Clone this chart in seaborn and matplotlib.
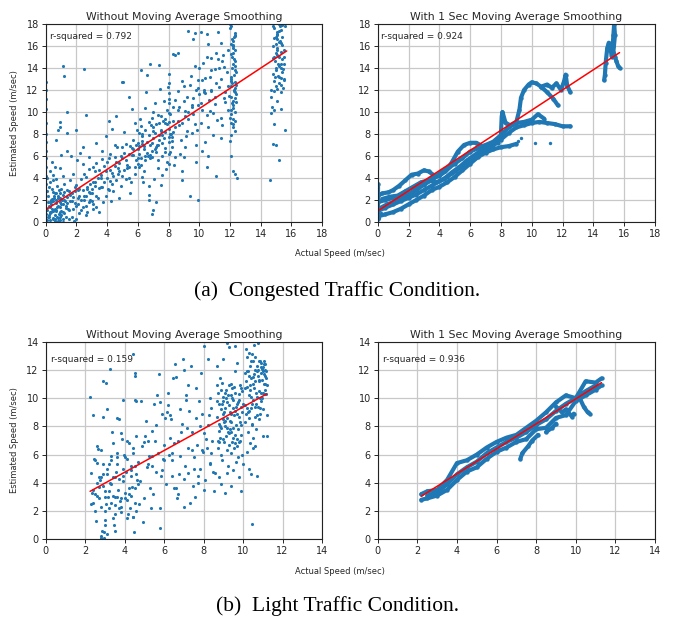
import numpy as np
import pandas as pd
import matplotlib
matplotlib.use("Agg")
import matplotlib.pyplot as plt
import seaborn as sns

# ------------------------------------------------------------
# (a) congested traffic, raw estimates
# ------------------------------------------------------------
cong_raw_x = [
    # dense cluster near origin
    0.1, 0.2, 0.3, 0.4, 0.5, 0.6, 0.7, 0.8, 0.9, 1.0,
    0.15, 0.25, 0.35, 0.45, 0.55, 0.65, 0.75, 0.85, 0.95, 1.05,
    0.1, 0.3, 0.5, 0.7, 0.9, 1.1, 1.3, 1.5, 0.2, 0.4,
    0.6, 0.8, 1.0, 1.2, 1.4, 0.05, 0.35, 0.55, 0.75, 0.95,
    1.15, 1.35, 1.55, 0.12, 0.42, 0.62, 0.82, 1.02, 1.22, 1.42,
    0.3, 0.6, 0.9, 1.2, 1.5, 0.2, 0.5, 0.8, 1.1, 1.4,
    # column at x = 0
    0.0, 0.0, 0.0, 0.0, 0.0, 0.0, 0.0, 0.0, 0.0, 0.0, 0.0, 0.0,
    # 1.5 .. 3.5
    1.6, 1.8, 2.0, 2.2, 2.4, 2.6, 2.8, 3.0, 3.2, 3.4,
    1.7, 1.9, 2.1, 2.3, 2.5, 2.7, 2.9, 3.1, 3.3, 3.5,
    1.6, 1.8, 2.0, 2.2, 2.4, 2.6, 2.8, 3.0, 3.2, 3.4,
    1.7, 1.9, 2.1, 2.3, 2.5, 2.7, 2.9, 3.1, 3.3, 3.5,
    1.65, 2.05, 2.45, 2.85, 3.25, 1.85, 2.25, 2.65, 3.05, 3.45,
    1.1, 1.2, 2.5, 1.4, 0.9, 0.8, 0.7, 0.9, 1.4, 2.0, 2.6, 1.0, 0.6, 1.4, 0.4,
    # 3.5 .. 6
    3.6, 3.8, 4.0, 4.2, 4.4, 4.6, 4.8, 5.0, 5.2, 5.4,
    5.6, 5.8, 6.0, 3.7, 3.9, 4.1, 4.3, 4.5, 4.7, 4.9,
    5.1, 5.3, 5.5, 5.7, 5.9, 3.6, 3.9, 4.2, 4.5, 4.8,
    5.1, 5.4, 5.7, 6.0, 3.75, 4.05, 4.35, 4.65, 4.95, 5.25,
    5.55, 5.85, 3.65, 4.15, 4.55, 5.05, 5.45, 5.95, 4.25, 5.65,
    # 6 .. 8.5
    6.1, 6.2, 6.3, 6.4, 6.5, 6.6, 6.7, 6.8, 6.9, 7.0,
    7.1, 7.2, 7.3, 7.4, 7.5, 7.6, 7.7, 7.8, 7.9, 8.0,
    8.1, 8.2, 8.3, 8.4, 6.15, 6.35, 6.55, 6.75, 6.95, 7.15,
    7.35, 7.55, 7.75, 7.95, 8.05, 8.15, 8.35, 6.05, 6.25, 6.45,
    6.65, 6.85, 7.05, 7.25, 7.45, 7.65, 7.85, 8.0, 8.0, 8.0,
    8.0, 8.0, 8.0, 6.1, 6.4, 6.7, 7.0, 7.3, 7.6, 7.9,
    8.2, 6.3, 6.9, 7.5, 8.1, 6.6, 7.2, 7.8, 8.4, 6.2,
    6.9, 7.0, 7.2, 6.7, 7.4, 6.8, 6.2, 5.0, 8.3, 8.4, 8.6, 8.0,
    # 8.5 .. 12
    8.6, 8.8, 9.0, 9.2, 9.4, 9.6, 9.8, 10.0, 10.2, 10.4,
    10.6, 10.8, 11.0, 11.2, 11.4, 11.6, 11.8, 8.7, 8.9, 9.1,
    9.3, 9.5, 9.7, 9.9, 10.1, 10.3, 10.5, 10.7, 10.9, 11.1,
    11.3, 11.5, 11.7, 11.9, 8.65, 9.05, 9.45, 9.85, 10.25, 10.65,
    11.05, 11.45, 11.85, 8.75, 9.15, 9.55, 9.95, 10.35, 10.75, 11.15,
    11.55, 11.95, 9.0, 9.6, 10.2, 10.8, 11.4, 9.3, 9.7, 10.1,
    10.5, 11.2, 8.9, 9.8, 9.9, 10.5, 11.1, 8.9, 9.4, 10.6,
    # column at x ~ 12.2
    12.0, 12.1, 12.2, 12.3, 12.4, 12.05, 12.15, 12.25, 12.35, 12.1,
    12.2, 12.3, 12.0, 12.1, 12.2, 12.3, 12.4, 12.15, 12.25, 12.05,
    12.1, 12.2, 12.3, 12.2, 12.1, 12.3, 12.4, 12.0, 12.2, 12.1,
    12.25, 12.15, 12.35, 12.2, 12.3, 12.1, 12.2, 12.3, 12.45, 12.0,
    # column at x ~ 15.1
    14.7, 14.8, 14.9, 15.0, 15.1, 15.2, 15.3, 15.4, 15.5, 15.6,
    14.75, 14.85, 14.95, 15.05, 15.15, 15.25, 15.35, 15.45, 15.55, 14.7,
    14.8, 14.9, 15.0, 15.1, 15.2, 15.3, 15.4, 15.5, 15.2, 15.1,
    15.3, 15.0, 15.4, 14.9, 15.2, 15.1, 15.3, 15.5, 14.8, 15.0,
    14.6, 15.2, 14.8, 15.0, 15.6, 14.9, 15.3, 15.1, 14.7, 15.2,
]
cong_raw_y = [
    0.2, 1.5, 0.8, 2.1, 0.4, 1.2, 2.6, 0.1, 1.8, 0.6,
    2.4, 0.9, 1.6, 0.3, 2.2, 1.0, 0.5, 2.9, 1.4, 2.0,
    1.1, 0.2, 2.7, 1.7, 0.9, 2.5, 1.3, 0.3, 3.2, 1.9,
    0.6, 1.5, 3.0, 0.8, 2.3, 0.7, 2.0, 1.1, 3.3, 0.2,
    1.6, 0.5, 2.8, 1.8, 1.2, 2.6, 0.4, 1.0, 3.5, 1.7,
    3.6, 0.1, 2.2, 2.0, 1.1, 0.5, 3.8, 2.4, 0.0, 2.9,
    3.5, 4.2, 5.0, 5.8, 6.5, 7.3, 8.0, 9.0, 10.3, 11.2, 12.0, 12.7,
    2.5, 1.2, 3.4, 0.8, 2.9, 4.1, 1.8, 3.0, 4.6, 2.2,
    0.5, 2.8, 1.6, 3.9, 2.0, 0.9, 3.5, 5.0, 1.4, 3.1,
    3.8, 4.4, 0.3, 2.4, 5.3, 1.5, 4.8, 2.6, 3.6, 4.0,
    1.9, 3.2, 2.2, 1.1, 4.4, 3.0, 2.0, 1.6, 5.4, 4.7,
    6.0, 5.6, 6.8, 5.9, 7.2, 0.1, 6.3, 0.6, 1.2, 0.9,
    14.2, 13.3, 13.9, 10.0, 9.1, 8.4, 7.5, 8.6, 8.1, 8.4, 9.7, 6.1, 5.0, 6.5, 5.5,
    3.2, 5.1, 4.0, 6.2, 2.8, 5.5, 4.6, 6.8, 3.9, 5.0,
    6.1, 4.4, 7.2, 6.5, 2.4, 5.8, 3.5, 7.0, 4.9, 3.3,
    6.3, 5.2, 2.6, 7.5, 5.6, 4.3, 7.8, 4.7, 5.9, 2.2,
    8.2, 4.0, 6.6, 5.3, 1.8, 3.0, 8.5, 6.8, 4.2, 7.1,
    3.6, 9.0, 5.7, 9.2, 9.6, 12.7, 11.4, 8.4, 1.9, 10.3,
    6.9, 5.2, 7.8, 4.6, 8.4, 6.3, 9.1, 5.8, 7.2, 10.0,
    6.6, 8.9, 4.9, 7.5, 9.6, 6.0, 11.0, 8.2, 5.5, 7.3,
    9.8, 6.8, 10.5, 8.6, 9.4, 3.6, 11.8, 3.3, 5.9, 10.8,
    7.9, 4.3, 6.4, 12.3, 13.5, 8.0, 5.2, 5.0, 7.1, 10.4,
    6.0, 8.8, 3.9, 7.0, 12.1, 9.2, 4.8, 6.2, 8.5, 9.9,
    11.2, 12.6, 7.7, 8.1, 6.6, 2.5, 8.3, 5.6, 7.9, 10.2,
    7.4, 4.1, 9.5, 3.4, 6.4, 13.4, 6.8, 9.0, 5.9, 8.7,
    0.7, 1.1, 1.8, 2.0, 14.3, 14.4, 13.8, 12.7, 15.3, 15.2, 15.4, 5.3,
    9.2, 7.5, 11.0, 8.3, 12.5, 9.8, 7.0, 11.6, 10.2, 13.1,
    8.6, 12.0, 10.7, 14.8, 9.5, 11.3, 13.6, 10.5, 12.8, 6.8,
    10.0, 8.1, 14.2, 12.2, 9.0, 11.8, 15.0, 10.1, 7.9, 12.6,
    14.0, 8.8, 10.9, 15.6, 11.9, 9.6, 13.3, 8.4, 14.5, 11.1,
    13.9, 16.3, 12.4, 6.2, 7.8, 10.6, 12.9, 7.3, 13.8, 9.3,
    15.2, 11.5, 5.9, 16.6, 6.5, 14.9, 7.6, 17.4, 17.2, 17.3,
    17.1, 17.3, 4.6, 5.5, 2.0, 5.0, 4.2, 3.8, 2.4, 6.0,
    9.5, 10.2, 11.0, 11.8, 12.5, 13.2, 14.0, 14.8, 15.6, 16.2,
    16.5, 17.2, 18.0, 9.0, 10.6, 12.2, 13.6, 15.0, 16.8, 11.4,
    12.8, 14.4, 10.0, 8.6, 7.9, 9.2, 11.6, 17.6, 15.8, 13.0,
    12.0, 10.8, 14.2, 16.1, 8.3, 6.0, 4.6, 4.4, 4.0, 7.4,
    12.0, 13.5, 15.0, 16.2, 17.0, 14.2, 15.5, 16.8, 13.0, 17.8,
    10.5, 12.8, 14.6, 15.8, 13.3, 16.5, 17.5, 12.2, 14.4, 11.4,
    16.0, 17.6, 13.8, 15.2, 12.6, 14.0, 13.6, 15.6, 18.0, 16.6,
    11.8, 12.4, 14.8, 10.2, 15.0, 17.3, 16.3, 12.9, 17.8, 14.0,
    3.8, 5.6, 7.1, 7.0, 8.4, 8.9, 10.3, 11.0, 9.9, 13.2,
]
# more points in the dense parts of the congested cloud
cong_raw_x2 = [
    0.05, 0.1, 0.2, 0.3, 0.4, 0.5, 0.6, 0.7, 0.8, 0.9,
    1.0, 1.1, 1.2, 1.3, 0.15, 0.25, 0.45, 0.65, 0.85, 1.25,
    0.35, 0.55, 0.75, 0.95, 1.15, 1.45, 1.6, 1.8, 2.0, 2.2,
    2.4, 2.6, 2.8, 3.0, 3.2, 1.7, 1.9, 2.1, 2.3, 2.5,
    2.7, 2.9, 3.1, 3.3, 0.1, 0.3, 0.5, 0.7, 0.9, 1.1,
    3.6, 3.9, 4.2, 4.5, 4.8, 5.1, 5.4, 5.7, 6.0, 3.7,
    4.0, 4.3, 4.6, 4.9, 5.2, 5.5, 5.8, 3.8, 4.4, 5.0,
    5.6, 4.1, 4.7, 5.3, 5.9,
    6.1, 6.3, 6.5, 6.7, 6.9, 7.1, 7.3, 7.5, 7.7, 7.9,
    8.1, 8.3, 6.2, 6.4, 6.6, 6.8, 7.0, 7.2, 7.4, 7.6,
    7.8, 8.0, 8.2, 8.4, 6.0, 6.5, 7.0, 7.5, 8.0, 6.3,
    6.8, 7.3, 7.8, 8.3, 8.0,
    8.6, 8.9, 9.2, 9.5, 9.8, 10.1, 10.4, 10.7, 11.0, 11.3,
    11.6, 11.9, 8.7, 9.0, 9.3, 9.6, 9.9, 10.2, 10.5, 10.8,
    11.1, 11.4, 11.7, 9.1, 9.7, 10.3, 10.9, 11.5, 10.0, 10.6,
    12.1, 12.2, 12.3, 12.15, 12.25, 12.35, 12.05, 12.2, 12.3, 12.1,
    12.2, 12.4, 12.1, 12.3, 12.2, 12.15, 12.25, 12.35, 12.2, 12.3,
    14.8, 15.0, 15.2, 15.4, 15.1, 15.3, 14.9, 15.5, 15.2, 15.0,
    14.85, 15.15, 15.35, 15.05, 15.25, 15.45, 14.95, 15.3, 15.1, 15.4,
]
cong_raw_y2 = [
    1.3, 2.8, 0.6, 1.4, 3.0, 1.9, 0.3, 1.1, 2.2, 0.5,
    1.6, 0.9, 2.7, 1.5, 0.5, 1.8, 1.0, 2.0, 0.7, 1.9,
    0.9, 2.4, 1.4, 2.6, 0.3, 1.2, 1.9, 2.3, 1.5, 3.0,
    1.4, 2.4, 2.7, 1.9, 3.3, 2.6, 1.7, 2.9, 2.0, 2.4,
    3.2, 2.6, 3.6, 2.4, 4.0, 4.6, 4.3, 3.9, 4.9, 4.2,
    4.0, 4.6, 3.7, 5.1, 5.4, 4.7, 6.2, 6.1, 5.8, 3.2,
    5.5, 4.5, 3.8, 6.0, 5.6, 6.9, 5.0, 3.6, 4.2, 5.8,
    6.7, 2.9, 4.4, 4.9, 7.0,
    6.2, 7.4, 5.6, 7.9, 6.5, 8.1, 7.0, 8.4, 7.6, 8.9,
    8.0, 9.2, 5.8, 6.9, 7.3, 6.1, 8.6, 6.4, 9.0, 7.2,
    9.4, 10.8, 7.7, 11.1, 6.6, 6.0, 7.6, 8.3, 9.1, 8.0,
    7.0, 9.7, 6.7, 8.2, 11.7,
    10.2, 9.0, 11.4, 10.5, 12.0, 10.8, 11.7, 13.2, 11.4, 12.3,
    14.1, 10.2, 8.8, 12.4, 9.4, 11.3, 10.6, 12.9, 9.7, 11.9,
    15.4, 13.0, 11.8, 10.1, 8.9, 12.0, 9.9, 14.6, 14.0, 16.2,
    9.8, 10.4, 11.3, 12.6, 13.4, 14.6, 15.3, 16.0, 17.0, 17.8,
    9.4, 10.9, 12.4, 13.8, 15.4, 16.6, 11.9, 12.7, 8.9, 16.9,
    14.9, 16.8, 17.4, 17.9, 12.1, 13.1, 11.9, 15.0, 16.4, 15.4,
    16.7, 14.4, 12.5, 17.1, 17.8, 13.9, 13.2, 14.4, 15.6, 16.1,
]

# (a) congested traffic, 1 s moving average: traced curves
cong_sm_traces = {
    "t1": ([0.0, 0.3, 0.7, 1.0, 1.4, 1.8, 2.2, 2.6, 3.0, 3.3, 3.7, 4.0, 4.4, 4.8, 5.2, 5.6, 6.0, 6.4, 6.8, 7.2, 7.6, 8.0],
           [2.4, 2.6, 2.7, 2.9, 3.3, 3.8, 4.3, 4.4, 4.7, 4.6, 4.2, 4.2, 4.6, 5.4, 6.4, 7.0, 7.2, 7.2, 6.9, 7.0, 7.3, 7.8]),
    "t2": ([0.0, 0.5, 1.0, 1.5, 2.0, 2.5, 3.0, 3.5, 4.0, 4.5, 5.0, 5.5, 6.0, 6.5, 7.0, 7.5, 8.0, 8.5, 9.0, 9.5, 10.0, 10.4, 10.8],
           [1.8, 2.0, 2.2, 2.1, 2.5, 2.9, 3.4, 3.8, 4.3, 4.8, 5.3, 5.8, 6.4, 6.7, 7.0, 7.3, 7.9, 8.6, 9.0, 9.1, 9.3, 9.8, 9.4]),
    "t3": ([0.0, 0.5, 1.0, 1.5, 2.0, 2.5, 3.0, 3.5, 4.0, 4.5, 5.0, 5.5, 6.0, 6.5, 7.0, 7.5, 8.0, 8.5, 9.0, 9.5, 10.0, 10.5, 11.0, 11.5, 12.0, 12.5],
           [1.0, 1.3, 1.6, 1.9, 2.2, 2.5, 2.9, 3.3, 3.7, 4.1, 4.6, 5.1, 5.6, 6.1, 6.6, 7.0, 7.5, 8.1, 8.6, 8.8, 9.0, 9.1, 9.0, 8.9, 8.7, 8.7]),
    "t4": ([0.0, 0.5, 1.0, 1.5, 2.0, 2.5, 3.0, 3.5, 4.0, 4.5, 5.0, 5.5, 6.0, 6.5, 7.0, 7.5, 8.0, 8.5, 9.0],
           [0.5, 0.7, 0.9, 1.2, 1.6, 2.0, 2.4, 2.9, 3.2, 3.6, 4.1, 4.7, 5.3, 5.9, 6.3, 6.6, 6.8, 6.9, 7.1]),
    "t5": ([8.0, 8.05, 8.1, 8.3, 8.6, 9.0, 9.2, 9.3, 9.5, 9.8, 10.0, 10.3, 10.6, 11.0, 11.3, 11.6, 11.9, 12.1, 12.2, 12.3, 12.5],
           [8.0, 9.6, 10.0, 9.0, 8.8, 9.1, 10.2, 11.3, 12.0, 12.5, 12.7, 12.6, 12.3, 12.5, 12.2, 12.6, 12.0, 12.8, 13.4, 12.4, 11.8]),
    "t6": ([10.6, 11.0, 11.4, 11.7], [12.3, 11.8, 11.2, 10.6]),
    "t7": ([14.7, 14.75, 14.8, 14.9, 15.0, 15.1, 15.2, 15.25, 15.3, 15.35, 15.4, 15.3, 15.4, 15.5, 15.6, 15.7],
           [12.9, 13.4, 14.5, 15.8, 16.3, 15.8, 15.0, 16.0, 17.0, 18.0, 17.0, 15.5, 15.0, 14.6, 14.2, 14.0]),
    "t8": ([0.0, 0.0], [0.3, 3.5]),
    "t9": ([0.2, 0.6, 1.0, 1.4, 1.8, 2.2, 2.6, 3.0, 3.4, 3.8, 4.2, 4.6, 5.0],
           [1.3, 1.6, 1.8, 2.2, 2.4, 2.7, 3.1, 3.5, 3.9, 4.2, 4.6, 5.0, 5.5]),
    "t10": ([0.3, 0.8, 1.3, 1.8, 2.3, 2.8, 3.3, 3.8, 4.3, 4.8, 5.3, 5.8, 6.3, 6.8, 7.3, 7.8],
            [2.1, 2.3, 2.4, 2.8, 3.2, 3.6, 3.8, 3.6, 3.9, 4.5, 5.0, 5.6, 6.1, 6.6, 6.9, 7.2]),
}
cong_sm_iso_x = [9.0, 9.1, 9.3, 10.2, 11.2, 0.1, 0.2]
cong_sm_iso_y = [7.2, 7.4, 7.6, 7.2, 7.2, 0.4, 0.8]

# ------------------------------------------------------------
# (b) light traffic, raw estimates
# ------------------------------------------------------------
light_raw_x = [
    2.3, 2.4, 2.5, 2.6, 2.7, 2.8, 2.9, 3.0, 3.1, 3.2,
    3.3, 3.4, 3.5, 3.6, 3.7, 3.8, 3.9, 4.0, 4.1, 4.2,
    4.3, 4.4, 4.5, 4.6, 4.7, 2.35, 2.55, 2.75, 2.95, 3.15,
    3.35, 3.55, 3.75, 3.95, 4.15, 4.35, 4.55, 4.75, 2.45, 2.65,
    2.85, 3.05, 3.25, 3.45, 3.65, 3.85, 4.05, 4.25, 4.45, 4.65,
    2.3, 2.6, 2.9, 3.2, 3.5, 3.8, 4.1, 4.4, 4.7, 2.5,
    2.8, 3.1, 3.4, 3.7, 4.0, 4.3, 4.6, 2.7, 3.0, 3.3,
    3.6, 3.9, 4.2, 4.5, 2.4, 2.9, 3.4, 3.9, 4.4, 2.6,
    3.1, 3.6, 4.1, 4.6, 2.8, 3.3, 3.8, 4.3, 3.0, 3.5,
    2.25, 2.9, 3.05, 3.26, 4.44, 4.5, 4.55, 2.8, 2.95, 3.5,
    4.8, 4.9, 5.0, 5.1, 5.2, 5.3, 5.4, 5.5, 5.6, 5.7,
    5.8, 5.9, 6.0, 6.1, 6.2, 6.3, 6.4, 6.5, 6.6, 6.7,
    6.8, 6.9, 7.0, 7.1, 7.2, 7.3, 7.4, 7.5, 7.6, 7.7,
    7.8, 7.9, 8.0, 8.1, 8.2, 8.3, 8.4, 8.5, 4.85, 5.05,
    5.25, 5.45, 5.65, 5.85, 6.05, 6.25, 6.45, 6.65, 6.85, 7.05,
    7.25, 7.45, 7.65, 7.85, 8.05, 8.25, 8.45, 4.95, 5.35, 5.75,
    6.15, 6.55, 6.95, 7.35, 7.75, 8.15, 8.55, 5.15, 5.55, 5.95,
    6.35, 6.75, 7.15, 7.55, 7.95, 8.35, 5.0, 5.8, 6.6, 7.4,
    8.2, 5.4, 6.2, 7.0, 7.8, 8.6, 5.8, 6.4, 7.2, 8.0,
    8.7, 8.8, 8.9, 9.0, 9.1, 9.2, 9.3, 9.4, 9.5, 9.6,
    9.7, 9.8, 9.9, 10.0, 8.75, 8.85, 8.95, 9.05, 9.15, 9.25,
    9.35, 9.45, 9.55, 9.65, 9.75, 9.85, 9.95, 8.7, 8.8, 8.9,
    9.0, 9.1, 9.2, 9.3, 9.4, 9.5, 9.6, 9.7, 9.8, 9.9,
    8.75, 8.95, 9.15, 9.35, 9.55, 9.75, 9.95, 8.85, 9.05, 9.25,
    9.45, 9.65, 9.85, 8.8, 9.0, 9.2, 9.4, 9.6, 9.8, 10.0,
    8.9, 9.1, 9.3, 9.5, 9.7, 9.9, 8.7, 9.2, 9.6, 9.4,
    10.1, 10.2, 10.3, 10.4, 10.5, 10.6, 10.7, 10.8, 10.9, 11.0,
    11.1, 11.2, 10.15, 10.25, 10.35, 10.45, 10.55, 10.65, 10.75, 10.85,
    10.95, 11.05, 11.15, 10.1, 10.2, 10.3, 10.4, 10.5, 10.6, 10.7,
    10.8, 10.9, 11.0, 11.1, 10.25, 10.45, 10.65, 10.85, 11.05, 10.15,
    10.35, 10.55, 10.75, 10.95, 11.15, 10.2, 10.5, 10.8, 11.1, 10.4,
    10.7, 11.0, 10.3, 10.6, 10.9, 10.3, 10.5, 11.2, 10.45, 11.2,
]
light_raw_y = [
    4.7, 2.6, 3.2, 5.4, 2.9, 0.2, 3.8, 1.4, 4.6, 2.2,
    5.9, 3.1, 2.4, 6.1, 4.3, 1.9, 5.0, 3.3, 2.8, 6.8,
    4.5, 1.6, 3.6, 7.3, 5.5, 3.3, 1.3, 4.2, 0.5, 3.0,
    7.6, 4.8, 2.7, 6.0, 1.8, 3.7, 5.2, 2.5, 5.7, 6.4,
    0.6, 2.5, 4.0, 1.0, 3.5, 7.1, 4.8, 2.2, 0.5, 4.2,
    2.5, 3.1, 4.6, 5.3, 3.0, 2.3, 5.7, 6.5, 3.9, 2.0,
    6.3, 0.4, 1.5, 8.5, 2.9, 4.9, 2.0, 3.7, 1.0, 2.6,
    5.8, 4.1, 3.2, 9.9, 8.8, 8.7, 6.8, 9.9, 6.1, 6.6,
    9.2, 8.6, 7.0, 9.8, 4.4, 5.6, 7.5, 5.2, 3.4, 4.4,
    10.1, 11.2, 11.05, 12.1, 13.15, 11.75, 11.6, 0.1, 0.1, 0.6,
    4.1, 6.6, 2.9, 8.4, 5.3, 3.6, 7.7, 9.6, 4.8, 6.1,
    2.2, 8.9, 5.6, 3.9, 10.4, 7.2, 4.5, 6.8, 11.5, 3.2,
    5.9, 8.2, 4.3, 9.9, 6.5, 2.6, 7.6, 5.0, 10.7, 4.0,
    8.0, 6.3, 3.5, 7.1, 12.8, 5.4, 9.3, 4.8, 9.8, 7.3,
    5.9, 3.2, 10.2, 4.5, 8.6, 6.0, 11.4, 2.9, 7.6, 5.2,
    9.1, 3.8, 6.7, 11.8, 4.2, 8.8, 7.0, 1.2, 2.2, 11.7,
    9.0, 12.4, 12.8, 12.3, 9.8, 6.5, 3.4, 5.1, 7.0, 5.7,
    8.5, 4.6, 7.9, 3.0, 6.2, 10.0, 6.9, 9.7, 3.6, 6.3,
    8.1, 5.2, 9.5, 2.3, 5.0, 4.7, 0.8, 6.1, 10.9, 13.7,
    9.8, 8.2, 10.6, 7.1, 9.3, 8.6, 10.9, 7.6, 9.9, 6.8,
    8.9, 10.3, 7.4, 9.6, 6.5, 8.0, 11.1, 9.0, 7.3, 10.2,
    8.4, 6.9, 10.8, 8.1, 9.7, 7.0, 10.5, 10.9, 7.7, 9.2,
    8.5, 10.4, 6.3, 9.5, 11.0, 7.9, 9.1, 6.6, 8.7, 9.4,
    7.0, 5.6, 10.0, 7.8, 8.8, 5.8, 6.0, 11.4, 6.9, 5.2,
    10.7, 5.5, 8.3, 4.4, 12.8, 4.7, 3.8, 13.7, 4.4, 5.3,
    3.9, 3.3, 13.6, 4.9, 12.5, 3.4, 12.3, 13.9, 11.9, 6.1,
    9.5, 10.8, 8.6, 11.4, 9.9, 12.0, 8.8, 10.5, 11.8, 9.2,
    12.4, 10.9, 11.2, 9.0, 12.3, 8.2, 10.7, 9.6, 11.6, 12.6,
    10.0, 11.0, 11.9, 8.3, 12.9, 10.2, 9.3, 11.5, 8.7, 10.1,
    11.3, 9.8, 12.2, 10.6, 7.6, 13.1, 7.8, 8.9, 11.7, 13.5,
    6.8, 13.8, 9.4, 12.1, 11.4, 6.2, 7.2, 8.5, 10.3, 4.6,
    4.5, 7.3, 5.0, 6.6, 12.5, 13.2, 6.5, 8.8, 1.1, 7.3,
]
# more points in the dense parts of the light-traffic cloud
light_raw_x2 = [
    8.7, 8.8, 8.9, 9.0, 9.1, 9.2, 9.3, 9.4, 9.5, 9.6,
    9.7, 9.8, 9.9, 8.75, 8.85, 8.95, 9.05, 9.15, 9.25, 9.35,
    9.45, 9.55, 9.65, 9.75, 9.85, 9.95, 8.8, 9.0, 9.2, 9.4,
    9.6, 9.8, 8.9, 9.1, 9.3, 9.5, 9.7, 9.9, 9.0, 9.4,
    10.1, 10.2, 10.3, 10.4, 10.5, 10.6, 10.7, 10.8, 10.9, 11.0,
    11.1, 10.15, 10.25, 10.35, 10.45, 10.55, 10.65, 10.75, 10.85, 10.95,
    11.05, 11.15, 10.2, 10.4, 10.6, 10.8, 11.0, 10.3, 10.5, 10.7,
    10.9, 11.1, 10.1, 10.35, 10.6, 10.85, 11.1, 10.45, 10.75, 11.05,
    2.4, 2.7, 3.0, 3.3, 3.6, 3.9, 4.2, 4.5, 2.5, 2.8,
    3.1, 3.4, 3.7, 4.0, 4.3, 4.6, 2.6, 3.2, 3.8, 4.4,
    2.9, 3.5, 4.1, 3.0, 3.6,
    5.2, 5.6, 6.0, 6.4, 6.8, 7.2, 7.6, 8.0, 8.4, 5.4,
    5.9, 6.3, 6.7, 7.1, 7.5, 7.9, 8.3, 6.5, 7.0, 7.7,
]
light_raw_y2 = [
    8.7, 9.6, 7.9, 10.1, 8.0, 9.7, 7.5, 8.9, 7.2, 10.4,
    9.6, 6.9, 8.1, 10.4, 7.2, 9.6, 8.3, 10.6, 7.6, 9.0,
    10.0, 6.5, 9.4, 7.8, 10.9, 9.0, 6.9, 8.9, 7.9, 10.2,
    7.4, 9.9, 6.0, 8.4, 6.7, 9.3, 7.1, 10.7, 9.8, 8.3,
    10.7, 9.3, 11.6, 10.1, 11.0, 9.4, 12.3, 11.2, 10.4, 11.9,
    11.6, 8.9, 11.9, 10.6, 9.6, 11.7, 10.4, 12.0, 9.3, 11.3,
    12.4, 10.3, 11.9, 12.6, 11.2, 12.6, 10.4, 9.1, 12.6, 11.9,
    12.2, 12.0, 11.8, 10.9, 12.9, 10.0, 11.0, 8.1, 13.9, 12.6,
    3.5, 4.4, 2.0, 3.9, 3.0, 4.5, 3.6, 2.6, 5.6, 2.3,
    5.0, 4.4, 2.2, 5.8, 3.1, 4.6, 4.0, 3.4, 2.9, 1.6,
    5.3, 1.8, 1.5, 3.0, 5.3,
    7.0, 8.1, 6.7, 5.6, 9.2, 4.7, 8.6, 7.5, 6.1, 5.9,
    4.9, 8.8, 7.0, 10.2, 5.8, 8.9, 5.3, 3.6, 12.0, 4.5,
]

# (b) light traffic, 1 s moving average: traced curves
light_sm_traces = {
    "t1": ([2.2, 2.5, 3.0, 3.5, 4.0, 4.5, 5.0, 5.5, 6.0, 6.5, 7.0, 7.5, 8.0, 8.5, 9.0, 9.5, 10.0, 10.5, 11.0, 11.3],
           [3.2, 3.4, 3.5, 4.2, 5.4, 5.6, 6.0, 6.5, 6.9, 7.2, 7.4, 7.9, 8.4, 9.0, 9.7, 10.2, 10.0, 11.2, 11.1, 11.4]),
    "t2": ([2.2, 2.5, 3.0, 3.5, 4.0, 4.5, 5.0, 5.5, 6.0, 6.5, 7.0, 7.5, 8.0, 8.5, 9.0, 9.5, 10.0, 10.5, 11.0, 11.3],
           [2.8, 2.9, 3.1, 3.5, 4.2, 4.8, 5.1, 5.7, 6.2, 6.5, 6.9, 7.1, 7.8, 7.9, 8.6, 8.8, 9.8, 10.2, 10.6, 10.9]),
    "t3": ([2.5, 3.0, 3.5, 4.0, 4.5, 5.0, 5.5, 6.0, 6.5, 7.0, 7.5, 8.0, 8.5, 9.0, 9.5, 10.0, 10.5, 11.0],
           [3.1, 3.3, 3.9, 4.6, 5.1, 5.5, 6.1, 6.5, 6.9, 7.2, 7.6, 8.1, 8.5, 9.1, 9.6, 10.0, 10.5, 10.9]),
    "t4": ([7.2, 7.3, 7.6, 7.8, 8.1], [5.7, 6.1, 6.6, 7.0, 7.4]),
    "t5": ([9.0, 9.3, 9.5, 9.8, 9.9], [9.4, 9.0, 9.2, 8.7, 8.9]),
    "t6": ([10.2, 10.4, 10.6, 10.7], [10.0, 9.4, 9.0, 8.9]),
    "t7": ([8.5, 8.8, 9.0], [7.6, 7.9, 8.2]),
}

# fitted regression lines (end points)
fit_cong_raw = ([0.0, 15.7], [1.1, 15.55])
fit_cong_sm = ([0.0, 15.7], [1.0, 15.4])
fit_light_raw = ([2.25, 11.2], [3.4, 10.3])
fit_light_sm = ([2.2, 11.3], [3.05, 11.1])

r2_labels = ["r-squared = 0.792", "r-squared = 0.924",
             "r-squared = 0.159", "r-squared = 0.936"]

BLUE = "#1f77b4"

sns.set_theme(style="ticks")
plt.rcParams["font.family"] = ["DejaVu Sans"]
plt.rcParams["text.color"] = "#262626"
plt.rcParams["xtick.color"] = "#262626"
plt.rcParams["ytick.color"] = "#262626"

fig = plt.figure(figsize=(6.73, 6.2), dpi=100)
W, H = 673, 620


def add_ax(left, top, right, bottom):
    return fig.add_axes([left / W, 1 - bottom / H, (right - left) / W, (bottom - top) / H])


ax_a1 = add_ax(45.7, 24, 322, 222)
ax_a2 = add_ax(377.7, 24, 655, 222)
ax_b1 = add_ax(45.7, 341.7, 322, 539.3)
ax_b2 = add_ax(377.7, 341.7, 655, 539.3)


def traces_df(traces):
    rows = []
    for name, (xs, ys) in traces.items():
        for x, y in zip(xs, ys):
            rows.append((name, x, y))
    return pd.DataFrame(rows, columns=["trace", "x", "y"])


def style_ax(ax, lim, title, r2, r2x, r2y):
    ax.set_xlim(0, lim)
    ax.set_ylim(0, lim)
    ax.set_xticks(np.arange(0, lim + 1, 2))
    ax.set_yticks(np.arange(0, lim + 1, 2))
    ax.grid(True, color="#c8c8c8", lw=0.9)
    ax.set_axisbelow(True)
    ax.tick_params(labelsize=7, length=3, width=0.7, pad=2)
    for s in ax.spines.values():
        s.set_color("#222222")
        s.set_linewidth(0.8)
    ax.set_title(title, fontsize=7.8, pad=3)
    ax.text(r2x, r2y, r2, transform=ax.transAxes, fontsize=6.5, va="center")
    ax.set_xlabel("")
    ax.set_ylabel("")


# raw scatters
sns.scatterplot(x=cong_raw_x + cong_raw_x2, y=cong_raw_y + cong_raw_y2,
                ax=ax_a1, s=5, color=BLUE, linewidth=0)
sns.scatterplot(x=light_raw_x + light_raw_x2, y=light_raw_y + light_raw_y2,
                ax=ax_b1, s=5, color=BLUE, linewidth=0)

# smoothed traces
for ax, traces in [(ax_a2, cong_sm_traces), (ax_b2, light_sm_traces)]:
    df = traces_df(traces)
    sns.lineplot(data=df, x="x", y="y", units="trace", estimator=None, sort=False,
                 ax=ax, color=BLUE, lw=3.0)
    sns.scatterplot(data=df, x="x", y="y", ax=ax, s=10, color=BLUE, linewidth=0)
sns.scatterplot(x=cong_sm_iso_x, y=cong_sm_iso_y, ax=ax_a2, s=6, color=BLUE, linewidth=0)

# regression lines
for ax, (fx, fy) in [(ax_a1, fit_cong_raw), (ax_a2, fit_cong_sm),
                     (ax_b1, fit_light_raw), (ax_b2, fit_light_sm)]:
    sns.lineplot(x=fx, y=fy, ax=ax, color="red", lw=1.1)

style_ax(ax_a1, 18, "Without Moving Average Smoothing", r2_labels[0], 0.016, 0.935)
style_ax(ax_a2, 18, "With 1 Sec Moving Average Smoothing", r2_labels[1], 0.012, 0.935)
style_ax(ax_b1, 14, "Without Moving Average Smoothing", r2_labels[2], 0.02, 0.911)
style_ax(ax_b2, 14, "With 1 Sec Moving Average Smoothing", r2_labels[3], 0.02, 0.911)

for ax in (ax_a1, ax_b1):
    ax.set_ylabel("Estimated Speed (m/sec)", fontsize=6)
    ax.yaxis.set_label_coords(-0.098, 0.5)

fig.text(340 / W, 1 - 254 / H, "Actual Speed (m/sec)", fontsize=6, ha="center", va="center")
fig.text(340 / W, 1 - 572 / H, "Actual Speed (m/sec)", fontsize=6, ha="center", va="center")

fig.text(337 / W, 1 - 291 / H, "(a)  Congested Traffic Condition.", fontsize=15.5,
         family="Liberation Serif", color="black", ha="center", va="center")
fig.text(337 / W, 1 - 606 / H, "(b)  Light Traffic Condition.", fontsize=15.5,
         family="Liberation Serif", color="black", ha="center", va="center")

fig.savefig("out.png", dpi=100, facecolor="white")
